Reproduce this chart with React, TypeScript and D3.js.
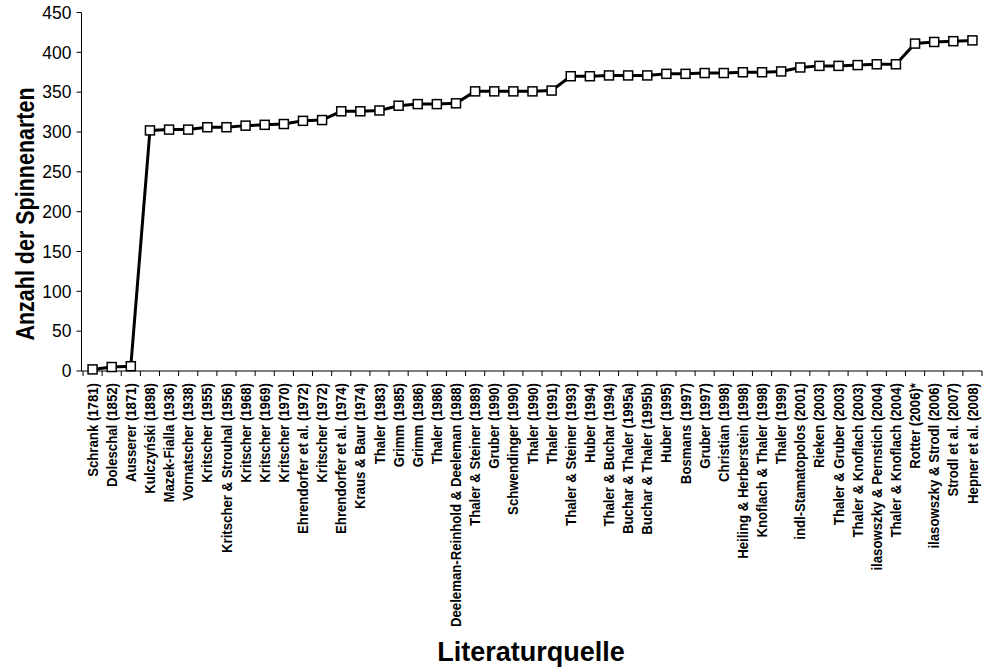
import React from "react";
import * as d3 from "d3";

const sources: string[] = [
  "Schrank (1781)",
  "Doleschal (1852)",
  "Ausserer (1871)",
  "Kulczyński (1898)",
  "Mazek-Fialla (1936)",
  "Vornatscher (1938)",
  "Kritscher (1955)",
  "Kritscher & Strouhal (1956)",
  "Kritscher (1968)",
  "Kritscher (1969)",
  "Kritscher (1970)",
  "Ehrendorfer et al. (1972)",
  "Kritscher (1972)",
  "Ehrendorfer et al. (1974)",
  "Kraus & Baur (1974)",
  "Thaler (1983)",
  "Grimm (1985)",
  "Grimm (1986)",
  "Thaler (1986)",
  "Deeleman-Reinhold & Deeleman (1988)",
  "Thaler & Steiner (1989)",
  "Gruber (1990)",
  "Schwendinger (1990)",
  "Thaler (1990)",
  "Thaler (1991)",
  "Thaler & Steiner (1993)",
  "Huber (1994)",
  "Thaler & Buchar (1994)",
  "Buchar & Thaler (1995a)",
  "Buchar & Thaler (1995b)",
  "Huber (1995)",
  "Bosmans (1997)",
  "Gruber (1997)",
  "Christian (1998)",
  "Heiling & Herberstein (1998)",
  "Knoflach & Thaler (1998)",
  "Thaler (1999)",
  "indl-Stamatopolos (2001)",
  "Rieken (2003)",
  "Thaler & Gruber (2003)",
  "Thaler & Knoflach (2003)",
  "ilasowszky & Pernstich (2004)",
  "Thaler & Knoflach (2004)",
  "Rotter (2006)*",
  "ilasowszky & Strodl (2006)",
  "Strodl et al. (2007)",
  "Hepner et al. (2008)",
];

const speciesCount: number[] = [
  2, 5, 6, 302, 303, 303, 306, 306, 308, 309, 310, 314, 315, 326, 326, 327,
  333, 335, 335, 336, 351, 351, 351, 351, 352, 370, 370, 371, 371, 371, 373,
  373, 374, 374, 375, 375, 376, 381, 383, 383, 384, 385, 385, 411, 413, 414,
  415,
];

const yTicks: number[] = [0, 50, 100, 150, 200, 250, 300, 350, 400, 450];

const yTitle = "Anzahl der Spinnenarten";
const xTitle = "Literaturquelle";

const W = 986;
const H = 668;
const FONT = "'Liberation Sans', Arial, Helvetica, sans-serif";

export default function App() {
  const axisLeft = 81.5;
  const axisBottom = 371;
  const x = d3
    .scalePoint<number>()
    .domain(d3.range(sources.length))
    .range([83, 982])
    .padding(0.5);
  const y = d3.scaleLinear().domain([0, 450]).range([axisBottom, 12.5]);
  const step = x.step();

  const line = d3
    .line<number>()
    .x((_, i) => x(i) as number)
    .y((d) => y(d));

  const boundaries = d3.range(sources.length + 1).map((i) =>
    i < sources.length ? (x(i) as number) - step / 2 : (x(sources.length - 1) as number) + step / 2
  );

  const sq = 9;

  return (
    <svg
      width={W}
      height={H}
      style={{ position: "absolute", left: 0, top: 0, background: "#fff" }}
      fontFamily={FONT}
    >
      <rect x={0} y={0} width={W} height={H} fill="#fff" />
      {/* Y axis */}
      <line x1={axisLeft} x2={axisLeft} y1={y(450)} y2={axisBottom} stroke="#000" strokeWidth={1} />
      {yTicks.map((t) => (
        <g key={t}>
          <line x1={axisLeft - 5} x2={axisLeft} y1={y(t)} y2={y(t)} stroke="#000" strokeWidth={1} />
          <text
            x={axisLeft - 10}
            y={y(t)}
            dy="0.36em"
            textAnchor="end"
            fontSize={17.5}
            fill="#000"
          >
            {t}
          </text>
        </g>
      ))}
      {/* X axis */}
      <line x1={axisLeft} x2={boundaries[boundaries.length - 1]} y1={axisBottom} y2={axisBottom} stroke="#000" strokeWidth={1} />
      {boundaries.map((bx, i) => (
        <line key={i} x1={bx} x2={bx} y1={axisBottom} y2={axisBottom + 5} stroke="#000" strokeWidth={1} />
      ))}
      {sources.map((s, i) => (
        <text
          key={i}
          transform={`translate(${x(i)},${axisBottom + 12}) scale(1.1,1) rotate(-90)`}
          textAnchor="end"
          dy="0.35em"
          fontSize={13.2}
          fontWeight="bold"
          fill="#000"
        >
          {s}
        </text>
      ))}
      {/* Line */}
      <path d={line(speciesCount) || ""} fill="none" stroke="#000" strokeWidth={3} />
      {speciesCount.map((v, i) => (
        <rect
          key={i}
          x={(x(i) as number) - sq / 2}
          y={y(v) - sq / 2}
          width={sq}
          height={sq}
          fill="#fff"
          stroke="#000"
          strokeWidth={1.5}
        />
      ))}
      {/* Titles */}
      <text
        transform={`translate(25,214) scale(1.2,1) rotate(-90)`}
        textAnchor="middle"
        dy="0.35em"
        fontSize={21.5}
        fontWeight="bold"
        fill="#000"
      >
        {yTitle}
      </text>
      <text x={531} y={661} textAnchor="middle" fontSize={27} fontWeight="bold" fill="#000">
        {xTitle}
      </text>
    </svg>
  );
}
